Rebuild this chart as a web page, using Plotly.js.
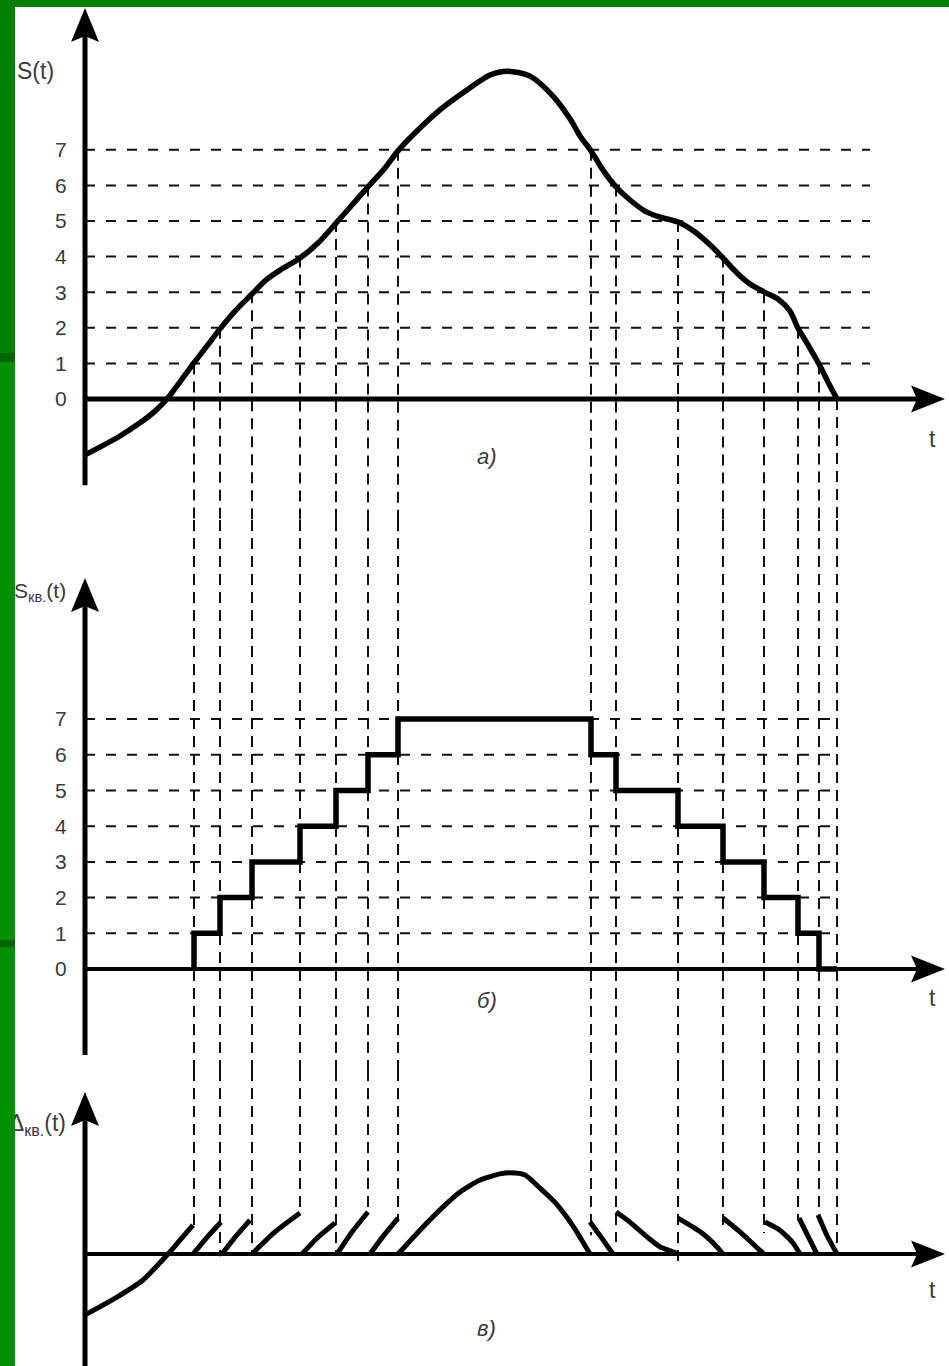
<!DOCTYPE html>
<html>
<head>
<meta charset="utf-8">
<script src="https://cdn.plot.ly/plotly-3.0.1.min.js"></script>
<style>html,body{margin:0;padding:0;background:#fff;}#chart{width:949px;height:1366px;}</style>
</head>
<body>
<div id="chart"></div>
<script>
// ---------- data (t in arbitrary time units, values in quantization levels) ----------
const levels = [0, 1, 2, 3, 4, 5, 6, 7];
const tickText = ['0', '1', '2', '3', '4', '5', '6', '7'];
const gridLevels = [1, 2, 3, 4, 5, 6, 7];

// a) continuous signal S(t)
const sT = [0, 1.5, 3.5, 5.5, 7.0, 8.2, 9.5, 10.8, 12.2, 13.5, 15.0, 16.7, 18.0, 19.5, 21.5, 23.3, 25.1, 26.7, 28.3, 30.0, 31.3,
            33.5, 35.5, 37.8, 40.5, 42.2, 44.5, 46.8, 48.5, 49.5, 50.6, 51.8, 53.1, 54.5, 56.0, 57.5, 59.3, 61.0, 62.5, 63.8,
            65.2, 66.5, 67.9, 69.3, 70.5, 71.3, 72.3, 73.4, 74.3, 75.2];
const sV = [-1.57, -1.35, -1.04, -0.67, -0.34, 0, 0.48, 0.98, 1.49, 1.97, 2.47, 2.95, 3.32, 3.62, 3.96, 4.38, 4.94, 5.45, 5.96, 6.49, 6.97,
            7.61, 8.12, 8.60, 9.10, 9.21, 9.07, 8.51, 7.87, 7.39, 6.97, 6.43, 5.96, 5.59, 5.28, 5.11, 4.97, 4.69, 4.33, 3.96,
            3.54, 3.23, 3.01, 2.81, 2.47, 1.99, 1.52, 0.98, 0.48, 0];

// moments when S(t) crosses a quantization level, and that level
const crossT = [10.9, 13.5, 16.7, 21.5, 25.1, 28.3, 31.3, 50.6, 53.1, 59.3, 63.8, 67.9, 71.3, 73.4, 75.2];
const crossLevel = [1, 2, 3, 4, 5, 6, 7, 7, 6, 5, 4, 3, 2, 1, 0];
// where each guide line ends in panel c)
const guideEndC = [0.79, -0.06, 0.06, 1.15, 0, 1.15, 0.90, 0.53, 0.34, -0.39, 0.67, 0.59, 0.96, 1.10, 0.20];

// b) quantized signal Sкв(t)
const stepT = [10.9, 10.9, 13.5, 16.7, 21.5, 25.1, 28.3, 31.3, 50.6, 53.1, 59.3, 63.8, 67.9, 71.3, 73.4, 75.2];
const stepV = [0, 1, 2, 3, 4, 5, 6, 7, 6, 5, 4, 3, 2, 1, 0, 0];

// c) quantization error Δкв(t), segments separated by null
const errT = [0, 3.2, 5.8, 8.3, 9.5, 10.8, null,
              10.8, 12.2, 13.6, null, 13.7, 15.1, 16.5, null, 16.7, 19.0, 21.5, null, 21.7, 23.3, 25.0, null, 25.2, 26.7, 28.3, null,
              28.5, 29.9, 31.3, null,
              31.3, 33.5, 35.5, 37.5, 39.5, 41.5, 42.5, 44.0, 45.5, 47.0, 48.0, 49.0, 49.8, 50.5, null,
              50.5, 51.7, 52.8, null, 53.1, 54.2, 56.2, 57.5, 58.8, 59.3, null, 59.3, 61.5, 63.2, 63.8, null,
              63.8, 65.5, 67.5, 67.9, null, 68.0, 69.5, 70.8, 71.5, null, 71.4, 72.3, 73.2, null, 73.3, 74.2, 75.2];
const errV = [-1.71, -1.21, -0.73, 0, 0.39, 0.81, null,
              0, 0.47, 0.90, null, 0, 0.50, 0.95, null, 0, 0.62, 1.15, null, 0, 0.47, 0.87, null, 0, 0.62, 1.18, null,
              0, 0.53, 1.01, null,
              0, 0.67, 1.24, 1.74, 2.08, 2.25, 2.28, 2.22, 1.85, 1.45, 1.10, 0.70, 0.33, 0, null,
              0.90, 0.44, 0, null, 1.18, 0.96, 0.48, 0.20, 0.06, 0, null, 1.01, 0.63, 0.20, 0, null,
              1.01, 0.62, 0.10, 0, null, 0.90, 0.67, 0.31, 0, null, 1.01, 0.50, 0, null, 1.10, 0.52, 0];

// ---------- geometry / styles ----------
const H = 1366, W = 949;
const gridEndA = 78.5, gridEndB = 75.5;
const rangeA = [-3.399, 11.208], rangeB = [-2.829, 12.577], rangeC = [-3.146, 5.169];
const axisEndT = 86.0;
const ink = '#111';
const txt = '#3a3a3a';
const FONT = '"Liberation Sans", Arial, sans-serif';

function gridTrace(yref, endT) {
  const x = [], y = [];
  gridLevels.forEach(l => { x.push(0, endT, null); y.push(l, l, null); });
  return {type: 'scatter', mode: 'lines', x, y, yaxis: yref, hoverinfo: 'skip',
          line: {color: ink, width: 2, dash: '10px,11px'}};
}
function guideTrace(yref, tops, bottoms) {
  const x = [], y = [];
  crossT.forEach((t, i) => { x.push(t, t, null); y.push(tops[i], bottoms[i], null); });
  return {type: 'scatter', mode: 'lines', x, y, yaxis: yref, hoverinfo: 'skip',
          line: {color: ink, width: 2, dash: '11px,7px'}};
}

const traces = [
  gridTrace('y', gridEndA),
  guideTrace('y', crossLevel, crossT.map(() => rangeA[0])),
  {type: 'scatter', mode: 'lines', x: sT, y: sV, yaxis: 'y', line: {color: '#000', width: 5.5, shape: 'spline', smoothing: 0.8}},
  gridTrace('y2', gridEndB),
  guideTrace('y2', crossT.map(() => rangeB[1]), crossT.map(() => rangeB[0])),
  {type: 'scatter', mode: 'lines', x: stepT, y: stepV, yaxis: 'y2', line: {color: '#000', width: 5.5, shape: 'hv'}},
  guideTrace('y3', crossT.map(() => rangeC[1]), guideEndC),
  {type: 'scatter', mode: 'lines', x: errT, y: errV, yaxis: 'y3', connectgaps: false,
   line: {color: '#000', width: 5, shape: 'spline', smoothing: 0.6}},
  {type: 'scatter', mode: 'text', x: [-1.9], y: [3.62], yaxis: 'y3', cliponaxis: false,
   text: ['Δ<sub>кв.</sub>(t)'], textposition: 'middle left', hoverinfo: 'skip',
   textfont: {family: FONT, size: 23, color: txt}}
];

function axisShapes(yref, yBottom, yTip, hWidth) {
  return [
    {type: 'line', xref: 'x', yref, x0: 0, x1: 0, y0: yBottom, y1: yTip - 0.6, line: {color: '#000', width: 5}},
    {type: 'line', xref: 'x', yref, x0: 0, x1: axisEndT - 2.5, y0: 0, y1: 0, line: {color: '#000', width: hWidth}},
    {type: 'path', xref: 'x', yref, xsizemode: 'pixel', ysizemode: 'pixel', xanchor: 0, yanchor: yTip,
     path: 'M0,0L-14,-34L0,-28L14,-34Z', fillcolor: '#000', line: {width: 0}},
    {type: 'path', xref: 'x', yref, xsizemode: 'pixel', ysizemode: 'pixel', xanchor: axisEndT, yanchor: 0,
     path: 'M0,0L-34,13.5L-28,0L-34,-13.5Z', fillcolor: '#000', line: {width: 0}}
  ];
}
function pRect(x0, x1, y0, y1, color) { // pixel rectangle in paper coords
  return {type: 'rect', xref: 'paper', yref: 'paper', layer: 'above', x0: x0 / W, x1: x1 / W,
          y0: 1 - y1 / H, y1: 1 - y0 / H, fillcolor: color, line: {width: 0}};
}

const shapes = [].concat(
  axisShapes('y', -2.42, 10.98, 5),
  axisShapes('y2', -2.41, 10.95, 4),
  axisShapes('y3', rangeC[0], 4.55, 4),
  [
    pRect(0, W, 0, 7, '#008000'),
    pRect(0, 15, 0, 353, '#008000'),
    pRect(0, 15, 353, 362, '#006400'),
    pRect(0, 15, 362, 940, '#009000'),
    pRect(0, 15, 940, 947, '#006400'),
    pRect(0, 15, 947, H, '#009000')
  ]
);

function pAnn(text, px, py, anchor, opts) {
  return Object.assign({text, xref: 'paper', yref: 'paper', x: px / W, y: 1 - py / H, xanchor: anchor, yanchor: 'middle',
          showarrow: false, font: {family: FONT, size: 20, color: txt}}, opts || {});
}
const big = {font: {family: FONT, size: 23, color: txt}};
const ital = {font: {family: FONT, size: 22, color: txt, style: 'italic'}};
const annotations = [
  pAnn('S(t)', 15, 71, 'left', big),
  pAnn('S<sub>кв.</sub>(t)', 12, 592, 'left', {font: {family: FONT, size: 21, color: txt}}),
  pAnn('t', 932, 439, 'center', big),
  pAnn('t', 932, 998, 'center', big),
  pAnn('t', 932, 1290, 'center', big),
  pAnn('а)', 487, 456, 'center', ital),
  pAnn('б)', 487, 1000, 'center', ital),
  pAnn('в)', 487, 1328, 'center', ital)
];

const yCommon = {anchor: 'x', showgrid: false, zeroline: false, showline: false, ticks: '',
                 tickvals: levels, ticktext: tickText, ticklabelposition: 'inside', ticklabelstandoff: 52,
                 tickfont: {family: FONT, size: 21, color: txt}, fixedrange: true};
const layout = {
  width: W, height: H, margin: {l: 0, r: 0, t: 0, b: 0, pad: 0},
  paper_bgcolor: '#ffffff', plot_bgcolor: 'rgba(0,0,0,0)', showlegend: false,
  xaxis: {domain: [0, 1], range: [-8.5, 86.4], visible: false, fixedrange: true},
  yaxis: Object.assign({}, yCommon, {domain: [1 - 520 / H, 1], range: rangeA}),
  yaxis2: Object.assign({}, yCommon, {domain: [1 - 1070 / H, 1 - 520 / H], range: rangeB}),
  yaxis3: Object.assign({}, yCommon, {domain: [0, 1 - 1070 / H], range: rangeC, showticklabels: false}),
  shapes, annotations
};

Plotly.newPlot('chart', traces, layout, {staticPlot: true, displayModeBar: false});
</script>
</body>
</html>
